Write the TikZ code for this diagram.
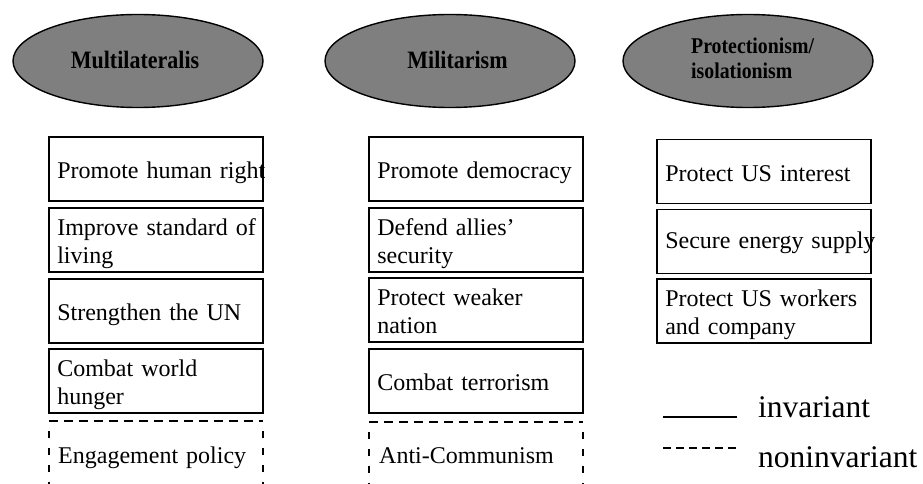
\documentclass[tikz,border=0pt]{standalone}
\usepackage{fontspec}
\usepackage{graphicx}
\setmainfont{Liberation Serif}
\usetikzlibrary{shapes.geometric}
\newcommand{\jline}[1]{\strut\makebox[205pt][s]{#1}}
\newcommand{\ovl}[1]{\scalebox{0.88}[1]{#1}}
\definecolor{ovalgray}{HTML}{7F7F7F}
\begin{document}
\begin{tikzpicture}[x=1pt,y=-1pt,
  oval/.style={ellipse, draw=black, line width=1.4pt, fill=ovalgray, inner sep=0,
    minimum width=250pt, minimum height=93pt},
  ovtxt/.style={inner sep=0, font=\bfseries\fontsize{25}{27}\selectfont},
  bx/.style={draw=black, line width=1.8pt, minimum width=214pt, minimum height=64pt, inner sep=0},
  btxt/.style={anchor=west, inner sep=0, text width=214pt, align=left,
    font=\fontsize{24}{28}\selectfont},
  topdash/.style={line width=1.8pt, dash pattern=on 9pt off 6pt},
  sidedash/.style={line width=1.8pt, dash pattern=on 7pt off 10pt, dash phase=9pt},
  lgtxt/.style={anchor=base west, inner sep=0, font=\fontsize{31.5}{36}\selectfont}
]
\useasboundingbox (0,0) rectangle (923,484);

% ovals
\node[oval] (o1) at (138,61) {};
\node[oval] (o2) at (450,61) {};
\node[oval] (o3) at (748,61) {};
\node[ovtxt, anchor=base] (to1) at (135,69) {\ovl{Multilateralis}};
\node[ovtxt, anchor=base] (to2) at (457.5,68.5) {\ovl{Militarism}};
\node[ovtxt, anchor=base west, font=\bfseries\fontsize{22.5}{25}\selectfont] (to3) at (691,53.3)
  {\ovl{\begin{tabular}[t]{@{}l@{}}Protectionism/\\isolationism\end{tabular}}};

% column 1
\node[bx] (a1) at (156,169) {};
\node[bx] (a2) at (156,240) {};
\node[bx] (a3) at (156,311) {};
\node[bx] (a4) at (156,381) {};
\node[btxt] (ta1) at ([xshift=9pt,yshift=-4pt]a1.west) {\strut\mbox{Promote human right}};
\node[btxt] (ta2) at ([xshift=9pt,yshift=-4pt]a2.west) {\jline{Improve standard of}\\\strut living};
\node[btxt] (ta3) at ([xshift=9pt,yshift=-4pt]a3.west) {\strut Strengthen the UN};
\node[btxt] (ta4) at ([xshift=9pt,yshift=-4pt]a4.west) {\strut Combat world\\\strut hunger};
\coordinate (a5tl) at (49,421);
\coordinate (a5tr) at (263,421);
\coordinate (a5bl) at (49,484);
\coordinate (a5br) at (263,484);
\draw[topdash] (a5tl) -- (a5tr);
\draw[sidedash] ([yshift=-2pt]a5tl) -- (a5bl);
\draw[sidedash] ([yshift=-2pt]a5tr) -- (a5br);
\node[btxt] (ta5) at (58,458) {\strut Engagement policy};

% column 2
\node[bx] (b1) at (476,169) {};
\node[bx] (b2) at (476,240) {};
\node[bx] (b3) at (476,310) {};
\node[bx] (b4) at (476,381) {};
\node[btxt] (tb1) at ([xshift=9pt,yshift=-4pt]b1.west) {\strut Promote democracy};
\node[btxt] (tb2) at ([xshift=9pt,yshift=-4pt]b2.west) {\strut Defend allies’\\\strut security};
\node[btxt] (tb3) at ([xshift=9pt,yshift=-4pt]b3.west) {\strut Protect weaker\\\strut nation};
\node[btxt] (tb4) at ([xshift=9pt,yshift=-4pt]b4.west) {\strut Combat terrorism};
\coordinate (b5tl) at (369,422);
\coordinate (b5tr) at (583,422);
\coordinate (b5bl) at (369,484);
\coordinate (b5br) at (583,484);
\draw[topdash] (b5tl) -- (b5tr);
\draw[sidedash] ([yshift=-2pt]b5tl) -- (b5bl);
\draw[sidedash] ([yshift=-2pt]b5tr) -- (b5br);
\node[btxt] (tb5) at (379,458) {\strut Anti-Communism};

% column 3
\node[bx] (c1) at (764,171.5) {};
\node[bx] (c2) at (764,241.5) {};
\node[bx] (c3) at (764,311) {};
\node[btxt] (tc1) at ([xshift=9pt,yshift=-4pt]c1.west) {\strut Protect US interest};
\node[btxt] (tc2) at ([xshift=9pt,yshift=-1pt]c2.west) {\strut\mbox{Secure energy supply}};
\node[btxt] (tc3) at ([xshift=9pt,yshift=-4pt]c3.west) {\jline{Protect US workers}\\\strut and company};

% legend
\coordinate (l1a) at (663,417);
\coordinate (l1b) at (737,417);
\coordinate (l2a) at (663,448);
\coordinate (l2b) at (737,448);
\draw[line width=1.8pt] (l1a) -- (l1b);
\draw[line width=1.3pt, dash pattern=on 8pt off 5pt] (l2a) -- (l2b);
\node[lgtxt] (lg1) at (758,417) {invariant};
\node[lgtxt] (lg2) at (758,467) {noninvariant};
\end{tikzpicture}
\end{document}
